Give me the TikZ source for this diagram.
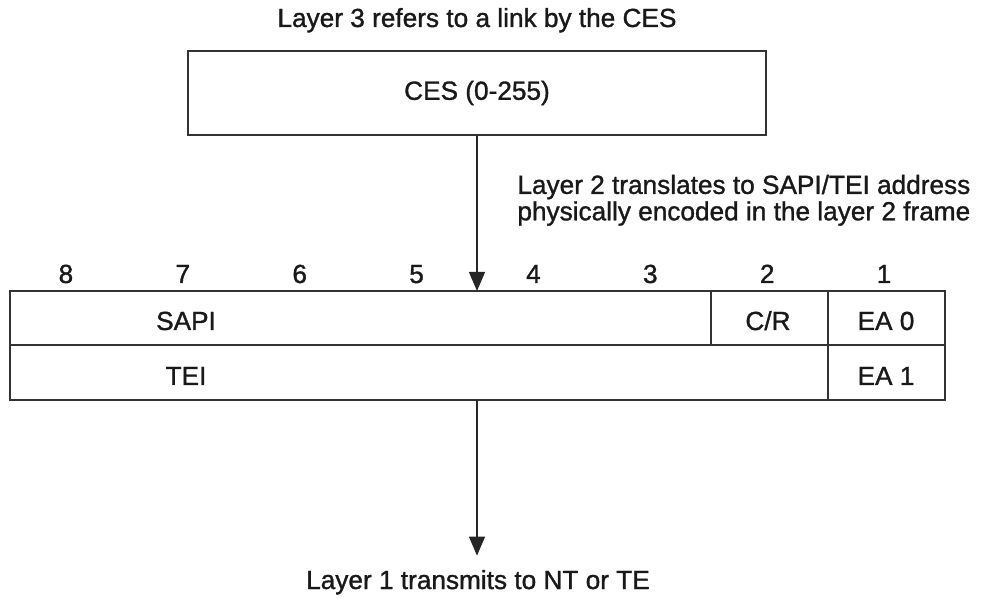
\documentclass[tikz,border=0pt]{standalone}
\usepackage{fontspec}
\setmainfont{Liberation Sans}[BoldFont={Liberation Sans},BoldFeatures={FakeBold=1.2}]
\usetikzlibrary{arrows.meta}

\tikzset{
  lbl/.style={font=\fontsize{13.1}{11.5}\selectfont\bfseries, text=black!90},
  cell/.style={draw=black!80, line width=0.65pt},
  ptr/.style={-{Triangle[length=9.5pt,width=8pt]}, line width=0.65pt, draw=black!85},
}

\begin{document}
\begin{tikzpicture}[x=0.5pt,y=-0.5pt]
    \useasboundingbox (0,0) rectangle (986,598);

    % Capa 3
    \node[lbl,anchor=base] (l3txt) at (477,27) {Layer 3 refers to a link by the CES};
    \node[lbl,cell,minimum width=289pt,minimum height=42pt,inner sep=0pt] (ces) at (477,93) {CES (0-255)};

    % Capa 2
    \node[lbl,anchor=north west,align=left,inner sep=0pt] (l2txt) at (517,174.5)
      {Layer 2 translates to SAPI/TEI address\\physically encoded in the layer 2 frame};

    % numeros de bit
    \foreach \n [count=\i] in {8,7,6,5,4,3,2,1}{
      \node[lbl,anchor=base] (bit\n) at ({10+116.875*(\i-0.5)-2.5},283) {\n};
    }

    % marco de direccion
    \draw[cell] (10,291) rectangle (945,400);
    \draw[cell] (10,345) -- (945,345);
    \draw[cell] (711,291) -- (711,345);
    \draw[cell] (828,291) -- (828,400);
    \coordinate (frametop) at (477,291);
    \coordinate (framebot) at (477,400);

    \node[lbl,anchor=base] (sapi) at (186,330) {SAPI};
    \node[lbl,anchor=base] (cr) at (768,330) {C/R};
    \node[lbl,anchor=base] (ea0) at (886,330) {EA 0};
    \node[lbl,anchor=base] (tei) at (186,385) {TEI};
    \node[lbl,anchor=base] (ea1) at (886,385) {EA 1};

    % Capa 1
    \node[lbl,anchor=base,inner sep=7pt] (l1txt) at (478,589) {Layer 1 transmits to NT or TE};

    \draw[ptr] (ces.south) -- (frametop);
    \draw[ptr] (framebot) -- (l1txt.north -| framebot);
  \end{tikzpicture}
\end{document}
